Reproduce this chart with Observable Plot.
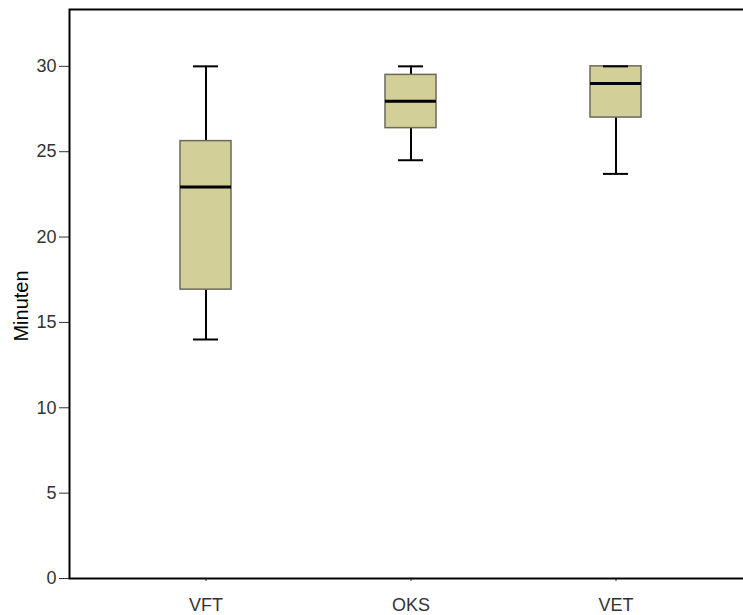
<!DOCTYPE html>
<html>
<head>
<meta charset="utf-8">
<script src="https://cdn.jsdelivr.net/npm/d3@7"></script>
<script src="https://cdn.jsdelivr.net/npm/@observablehq/plot@0.6"></script>
<style>
  html, body { margin: 0; padding: 0; background: #fff; overflow: hidden; }
  #wrap { width: 743px; height: 615px; overflow: hidden; }
  #wrap svg { max-width: none !important; width: 752px !important; height: 615px !important; }
</style>
</head>
<body>
<div id="wrap"></div>
<script>
const categories = ["VFT", "OKS", "VET"];
const whiskerLow = [14.0, 24.5, 23.7];
const q1 = [16.92, 26.38, 27.0];
const median = [22.93, 27.95, 29.0];
const q3 = [25.62, 29.5, 30.0];
const whiskerHigh = [30.0, 30.0, 30.0];
const yTicks = [0, 5, 10, 15, 20, 25, 30];
const yLabel = "Minuten";

const rows = categories.map((c, i) => ({
  cat: c, lo: whiskerLow[i], q1: q1[i], med: median[i], q3: q3[i], hi: whiskerHigh[i]
}));

const chart = Plot.plot({
  width: 752,
  height: 615,
  marginLeft: 69,
  marginRight: 0,
  marginTop: 9,
  marginBottom: 37,
  style: { fontFamily: "'Liberation Sans', Arial, sans-serif", fontSize: "18px", color: "#333", background: "#fff" },
  x: {
    type: "band",
    domain: categories,
    paddingInner: 0.75,
    paddingOuter: 0.54,
    label: null,
    tickSize: 3,
    tickPadding: 17
  },
  y: {
    domain: [0, 33.33],
    ticks: yTicks,
    tickSize: 10,
    tickPadding: 3,
    label: null
  },
  marks: [
    Plot.ruleX(rows, { x: "cat", y1: "lo", y2: "q1", stroke: "black", strokeWidth: 2 }),
    Plot.ruleX(rows, { x: "cat", y1: "q3", y2: "hi", stroke: "black", strokeWidth: 2 }),
    Plot.barY(rows, { x: "cat", y1: "q1", y2: "q3", fill: "#d3cf98", stroke: "#6a6a5c", strokeWidth: 1.5 }),
    Plot.tickY(rows, { x: "cat", y: "med", stroke: "black", strokeWidth: 3 }),
    Plot.tickY(rows, { x: "cat", y: "lo", stroke: "black", strokeWidth: 2, insetLeft: 13, insetRight: 13 }),
    Plot.tickY(rows, { x: "cat", y: "hi", stroke: "black", strokeWidth: 2, insetLeft: 13, insetRight: 13 }),
    Plot.frame({ stroke: "black", strokeWidth: 2 }),
    Plot.text([yLabel], { frameAnchor: "left", text: d => d, rotate: -90, dx: -48, dy: 12, fill: "black", fontSize: 20, textAnchor: "middle" })
  ]
});

chart.style.maxWidth = "none";
document.getElementById("wrap").appendChild(chart);
</script>
</body>
</html>
